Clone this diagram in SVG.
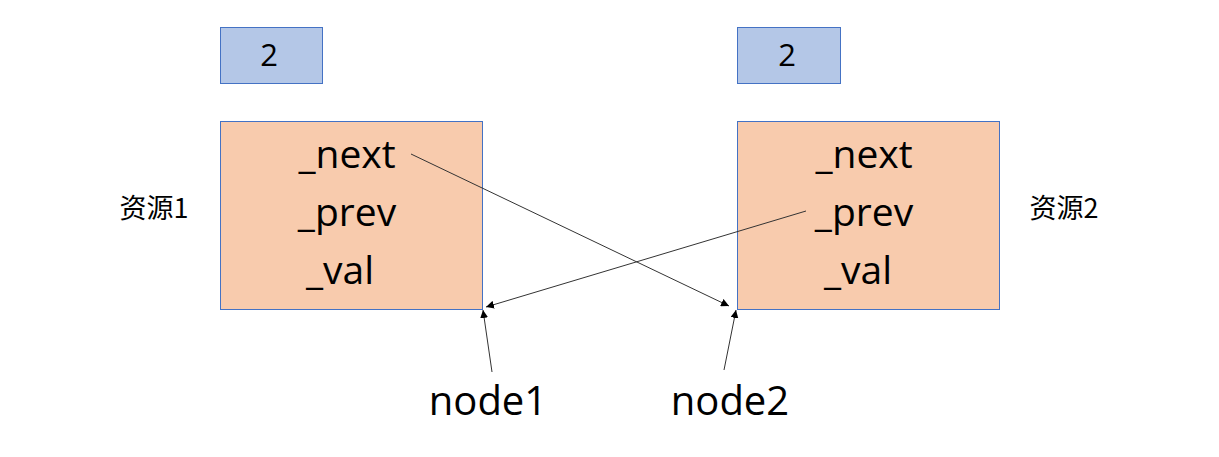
<svg xmlns="http://www.w3.org/2000/svg" width="1219" height="457" viewBox="0 0 1219 457">
<style>
.cnt{fill:#B4C7E7;stroke:#4472C4;stroke-width:1}
.obj{fill:#F8CBAD;stroke:#4472C4;stroke-width:1}
.t{font-family:"Open Sans","Noto Sans",sans-serif;font-size:39px;fill:#000;text-anchor:middle}
.n{font-size:40px}
.d{font-size:31px}
.lbl{font-family:"Noto Sans CJK SC","Noto Sans",sans-serif;font-size:27px;fill:#000;text-anchor:middle}
.c{stroke:#333;stroke-width:1;fill:none;marker-end:url(#ah)}
</style>
<defs>
<marker id="ah" viewBox="0 0 10 10" refX="10" refY="5" markerWidth="8" markerHeight="8" markerUnits="userSpaceOnUse" orient="auto">
<path d="M0,0 L10,5 L0,10 z" fill="#000"/>
</marker>
</defs>
<g id="count1"><rect class="cnt" x="220.5" y="27.5" width="102" height="56"/><text class="t d" x="269" y="66">2</text></g>
<g id="count2"><rect class="cnt" x="737.5" y="27.5" width="103" height="56"/><text class="t d" x="787" y="66">2</text></g>
<g id="node-res1">
<rect class="obj" x="220.5" y="121.5" width="262" height="188"/>
<text class="t" x="347" y="168">_next</text>
<text class="t" x="347" y="226">_prev</text>
<text class="t" x="340" y="284">_val</text>
</g>
<g id="node-res2">
<rect class="obj" x="737.5" y="121.5" width="262" height="188"/>
<text class="t" x="864" y="168">_next</text>
<text class="t" x="864" y="226">_prev</text>
<text class="t" x="858" y="284">_val</text>
</g>
<g id="label-res1"><text class="lbl" x="154" y="218">资源1</text></g>
<g id="label-res2"><text class="lbl" x="1064" y="218">资源2</text></g>
<g id="label-node1"><text class="t n" x="488" y="415">node1</text></g>
<g id="label-node2"><text class="t n" x="730" y="415">node2</text></g>
<g id="connectors">
<line class="c" x1="411" y1="154" x2="729" y2="306"/>
<line class="c" x1="806" y1="211" x2="486" y2="307"/>
<line class="c" x1="492" y1="372" x2="483" y2="310"/>
<line class="c" x1="724" y1="370" x2="736" y2="310"/>
</g>
</svg>
